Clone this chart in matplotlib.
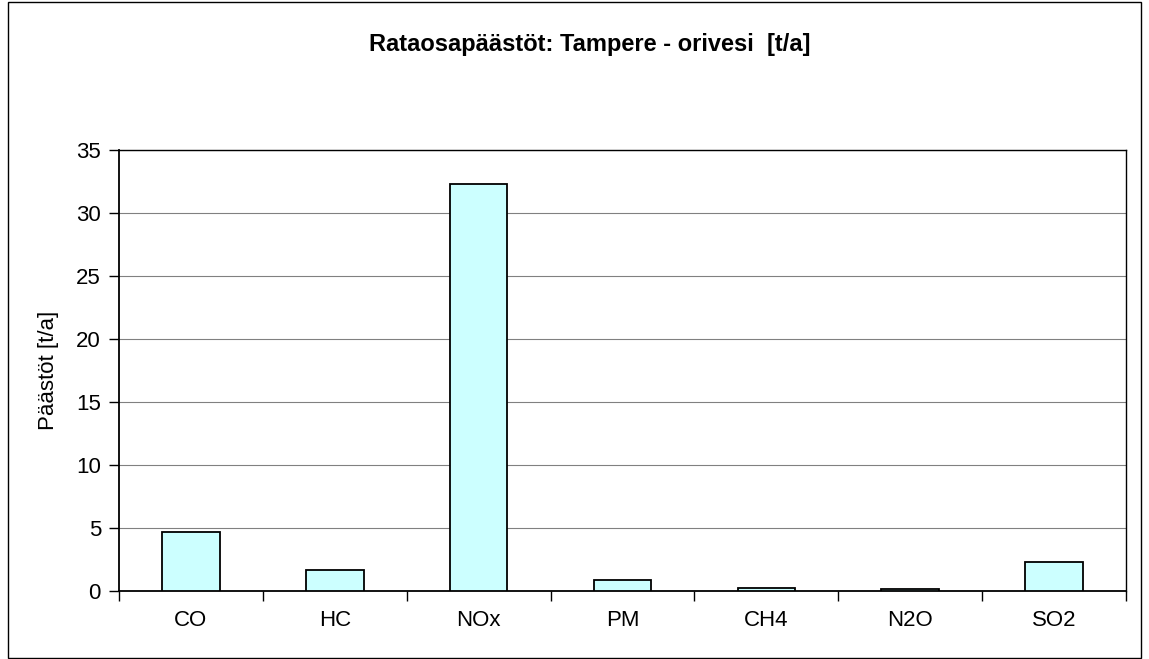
import matplotlib.pyplot as plt
import numpy as np
from matplotlib.patches import Rectangle

# --- data ---
categories = ["CO", "HC", "NOx", "PM", "CH4", "N2O", "SO2"]
emissions = [4.7, 1.7, 32.3, 0.86, 0.22, 0.12, 2.32]
y_ticks = [0, 5, 10, 15, 20, 25, 30, 35]

plt.rcParams['font.family'] = ['Liberation Sans', 'DejaVu Sans']

W, H = 1149, 659
fig = plt.figure(figsize=(W / 100, H / 100), dpi=100)

# outer frame
fig.patches.append(Rectangle((8 / W, 1 / H), (W - 16) / W, (H - 3) / H,
                             transform=fig.transFigure, fill=False,
                             edgecolor='black', linewidth=1.0))

left, right, top, bottom = 119, 1126, 150, 591
ax = fig.add_axes([left / W, 1 - bottom / H, (right - left) / W, (bottom - top) / H])

x = np.arange(len(categories))
ax.bar(x, emissions, width=0.4, color='#CCFFFF', edgecolor='black', linewidth=1.3, zorder=3)

ax.set_xlim(-0.5, len(categories) - 0.5)
ax.set_ylim(0, 35)
ax.set_yticks(y_ticks)
ax.set_yticklabels([str(v) for v in y_ticks], fontsize=16)
ax.set_xticks(x)
ax.set_xticklabels(categories, fontsize=16)
ax.set_xticks(np.arange(len(categories) + 1) - 0.5, minor=True)

ax.tick_params(axis='x', which='major', length=0, pad=14)
ax.tick_params(axis='x', which='minor', length=7, width=1, direction='out')
ax.tick_params(axis='y', length=7, width=1, direction='out', pad=6)

ax.yaxis.grid(True, color='#808080', linewidth=0.8, zorder=0)
ax.set_axisbelow(True)
for s in ax.spines.values():
    s.set_linewidth(1.0)
    s.set_color('black')
ax.spines['bottom'].set_linewidth(1.3)
ax.spines['left'].set_linewidth(1.3)

ax.set_ylabel("Päästöt [t/a]", fontsize=16, labelpad=12)
fig.text(590 / W, 1 - 45 / H, "Rataosapäästöt: Tampere - orivesi  [t/a]",
         ha='center', va='center', fontsize=17, fontweight='bold')

fig.savefig("out.png", dpi=100)
